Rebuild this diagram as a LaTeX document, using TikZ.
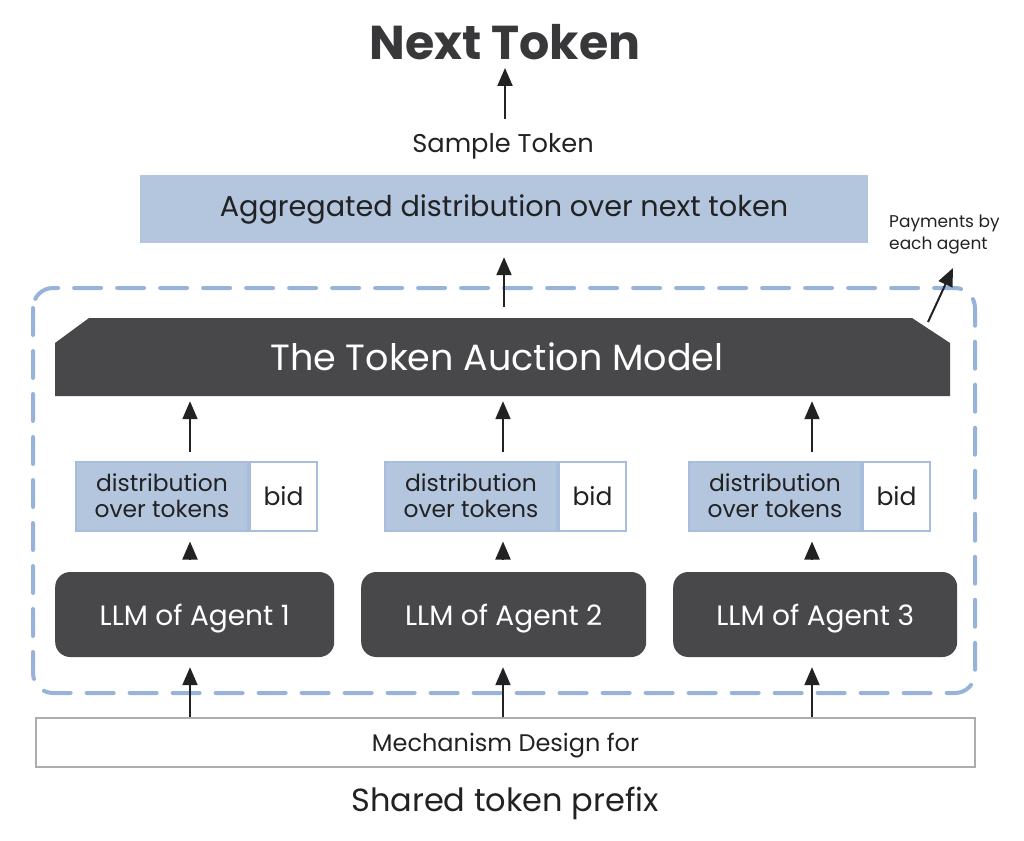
\documentclass[tikz,border=0pt]{standalone}
\usepackage{fontspec}
\setmainfont{Poppins}
\usetikzlibrary{arrows.meta}
\definecolor{aggblue}{HTML}{B3C6DE}
\definecolor{edgeblue}{HTML}{A8BDDB}
\definecolor{dashblue}{HTML}{97B3D9}
\definecolor{boxdark}{HTML}{48484A}
\definecolor{inkgrey}{HTML}{222224}
\definecolor{framegrey}{HTML}{ADADAD}
\newcommand{\fsz}[2]{\fontsize{#1}{#2}\selectfont}

\tikzset{
	arr/.style = {-{Triangle[length=18pt,width=15pt]}, line width=2pt, draw=inkgrey},
	llmbox/.style = {fill=boxdark, rounded corners=15pt, text=white, minimum height=85pt, text depth=0pt, font=\fsz{28}{32}},
	distbox/.style = {fill=aggblue, draw=edgeblue, line width=2pt, minimum height=69pt, minimum width=172pt,
		inner sep=0pt, align=center, text=inkgrey, font=\fsz{23.4}{26}},
	bidbox/.style = {fill=white, draw=edgeblue, line width=2pt, minimum height=69pt, minimum width=67pt,
		inner sep=0pt, text=inkgrey, font=\fsz{25}{28}},
}

\begin{document}
\begin{tikzpicture}[x=1pt, y=-1pt]
	\useasboundingbox (0,0) rectangle (1024,840);
	\node[font=\bfseries\fsz{47.5}{52}, text=inkgrey!90, inner sep=0pt] (next) at (505,42) {Next Token};
	\node[font=\fsz{25.7}{30}, text=inkgrey, inner sep=0pt] (sample) at (503,146) {Sample Token};
	\node[fill=aggblue, minimum width=728pt, minimum height=68pt, font=\fsz{28.7}{34}, text=inkgrey] (agg) at (504,209) {Aggregated distribution over next token};
	\node[font=\fsz{17}{22}, align=left, text=inkgrey, anchor=north west, inner sep=0pt] (pay) at (889,215) {Payments by\\each agent};
	\draw[dashblue, line width=4pt, dash pattern=on 27pt off 16pt, line cap=round, rounded corners=20pt] (33,288) rectangle (975,693);
	\fill[boxdark] (55,396) -- (55,343) -- (89,318) -- (912,318) -- (950,343) -- (950,396) -- cycle;
	\node[text=white, font=\fsz{36.5}{40}, minimum width=895pt, minimum height=78pt] (auction) at (497,357) {The Token Auction Model};
	\node[draw=framegrey, line width=1.5pt, minimum width=939pt, minimum height=49pt, text depth=0pt, font=\fsz{24}{28}, text=inkgrey] (mech) at (505.5,742.5) {Mechanism Design for};
	\node[font=\fsz{32}{36}, text=inkgrey] (prefix) at (505,803) {Shared token prefix};
	\foreach \i/\bx/\lx/\lw/\ax in {1/75/55/279/190, 2/384/361/285/503, 3/688/673/284/812} {
		\node[distbox, anchor=west] (dist\i) at (\bx,496) {distribution\\over tokens};
		\node[bidbox, anchor=west] (bid\i) at (dist\i.east) {bid};
		\node[llmbox, minimum width=\lw pt, anchor=west] (llm\i) at (\lx,614.5) {LLM of Agent \i};
		\coordinate (col\i) at (\ax,0);
		\draw[arr, shorten >=10pt] (mech.north -| col\i) -- (llm\i.south -| col\i);
		\draw[arr, shorten <=13pt, shorten >=10pt] (llm\i.north -| col\i) -- (dist\i.south -| col\i);
		\draw[arr, shorten <=9pt, shorten >=5pt] (dist\i.north -| col\i) -- (auction.south -| col\i);
	}
	\coordinate (paytail) at (928,322);
	\coordinate (paytip) at (953,268);
	\draw[arr] (paytail) -- (paytip);
	\draw[arr, shorten <=11pt, shorten >=14pt] (auction.north -| agg) -- (agg.south);
	\draw[arr, shorten >=8pt] ([yshift=14pt]sample.north -| next) -- (next.south);
\end{tikzpicture}
\end{document}
